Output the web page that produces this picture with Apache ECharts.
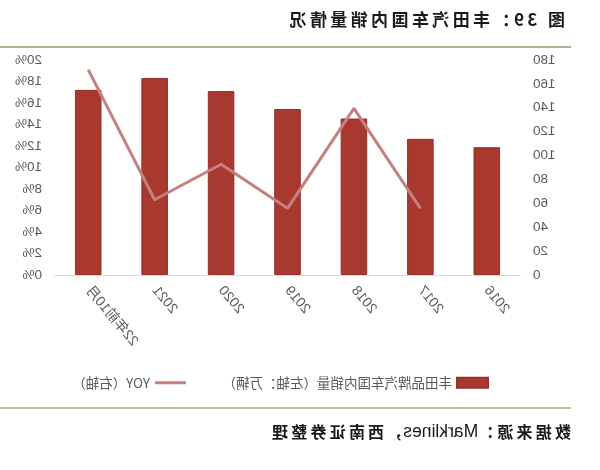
<!DOCTYPE html>
<html>
<head>
<meta charset="utf-8">
<script src="https://cdn.jsdelivr.net/npm/echarts@6/dist/echarts.min.js"></script>
<style>
  html, body { margin: 0; padding: 0; background: #fff; }
  /* the reference picture is a mirrored scan, so the whole chart is flipped */
  #main { width: 600px; height: 470px; transform: scaleX(-1); }
</style>
</head>
<body>
<div id="main"></div>
<script>
const categories = ['2016', '2017', '2018', '2019', '2020', '2021', '22年前10月'];
const sales = [107, 114, 131, 139, 154, 165, 155];          // 万辆, left axis
const yoy = [null, 0.062, 0.155, 0.062, 0.103, 0.070, 0.191]; // right axis

const titleText = '图 39：丰田汽车国内销量情况';
const sourceHead = '数据来源：';
const sourceLatin = 'Marklines';
const sourceTail = '，西南证券整理';
const barName = '丰田品牌汽车国内销量（左轴：万辆）';
const lineName = 'YOY（右轴）';

const font = '"Liberation Sans", "Noto Sans CJK SC", sans-serif';
const cjk = '"Noto Sans CJK SC", sans-serif';

// the scan has wide letter spacing, echarts has no letterSpacing so pad with thin spaces
const spaced = s => s.split('').join('\u2009');

const chart = echarts.init(document.getElementById('main'));

const legendText = { fontFamily: cjk, fontSize: 13.5, color: '#595959' };

chart.setOption({
  animation: false,
  backgroundColor: '#fff',
  title: {
    text: spaced(titleText),
    left: 30,
    top: 6,
    textStyle: { fontFamily: cjk, fontSize: 17, fontWeight: 'bold', color: '#1a1a1a' }
  },
  graphic: [
    { type: 'line', shape: { x1: 29, y1: 47, x2: 600, y2: 47 }, style: { stroke: '#9b9676', lineWidth: 1.5 } },
    { type: 'line', shape: { x1: 29, y1: 408, x2: 600, y2: 408 }, style: { stroke: '#b3a981', lineWidth: 1.5 } },
    {
      type: 'text', left: 29, top: 423,
      style: {
        text: '{a|' + spaced(sourceHead) + '}{b|' + sourceLatin + '}{a|' + spaced(sourceTail) + '}',
        rich: {
          a: { fontFamily: cjk, fontSize: 16, fontWeight: 'bold', fill: '#1a1a1a' },
          b: { fontFamily: font, fontSize: 17.5, fill: '#1a1a1a' }
        }
      }
    }
  ],
  legend: [
    {
      left: 106, top: 371,
      itemWidth: 31, itemHeight: 10,
      textStyle: legendText,
      data: [{ name: barName, icon: 'rect' }]
    },
    {
      left: 409, top: 371,
      itemWidth: 31, itemHeight: 3,
      textStyle: legendText,
      data: [{ name: lineName, icon: 'rect' }]
    }
  ],
  grid: { left: 80, right: 55, top: 60, bottom: 195 },
  xAxis: {
    type: 'category',
    data: categories,
    axisLine: { lineStyle: { color: '#d9d9d9', width: 1 } },
    axisTick: { show: false },
    axisLabel: { rotate: 50, margin: 13, fontFamily: font, fontSize: 14, color: '#595959' }
  },
  yAxis: [
    {
      type: 'value', min: 0, max: 180, interval: 20,
      axisLine: { show: false }, axisTick: { show: false }, splitLine: { show: false },
      axisLabel: { margin: 13, fontFamily: font, fontSize: 13.5, color: '#595959' }
    },
    {
      type: 'value', min: 0, max: 0.2, interval: 0.02,
      axisLine: { show: false }, axisTick: { show: false }, splitLine: { show: false },
      axisLabel: {
        margin: 13, fontFamily: font, fontSize: 13.5, color: '#595959',
        formatter: v => Math.round(v * 100) + '%'
      }
    }
  ],
  series: [
    {
      name: barName,
      type: 'bar',
      data: sales,
      barWidth: '40%',
      itemStyle: { color: '#a9382f', borderColor: '#96302a', borderWidth: 1 }
    },
    {
      name: lineName,
      type: 'line',
      yAxisIndex: 1,
      data: yoy,
      showSymbol: false,
      symbol: 'none',
      lineStyle: { color: '#c4817f', width: 3 },
      itemStyle: { color: '#c4817f' }
    }
  ]
});
</script>
</body>
</html>
